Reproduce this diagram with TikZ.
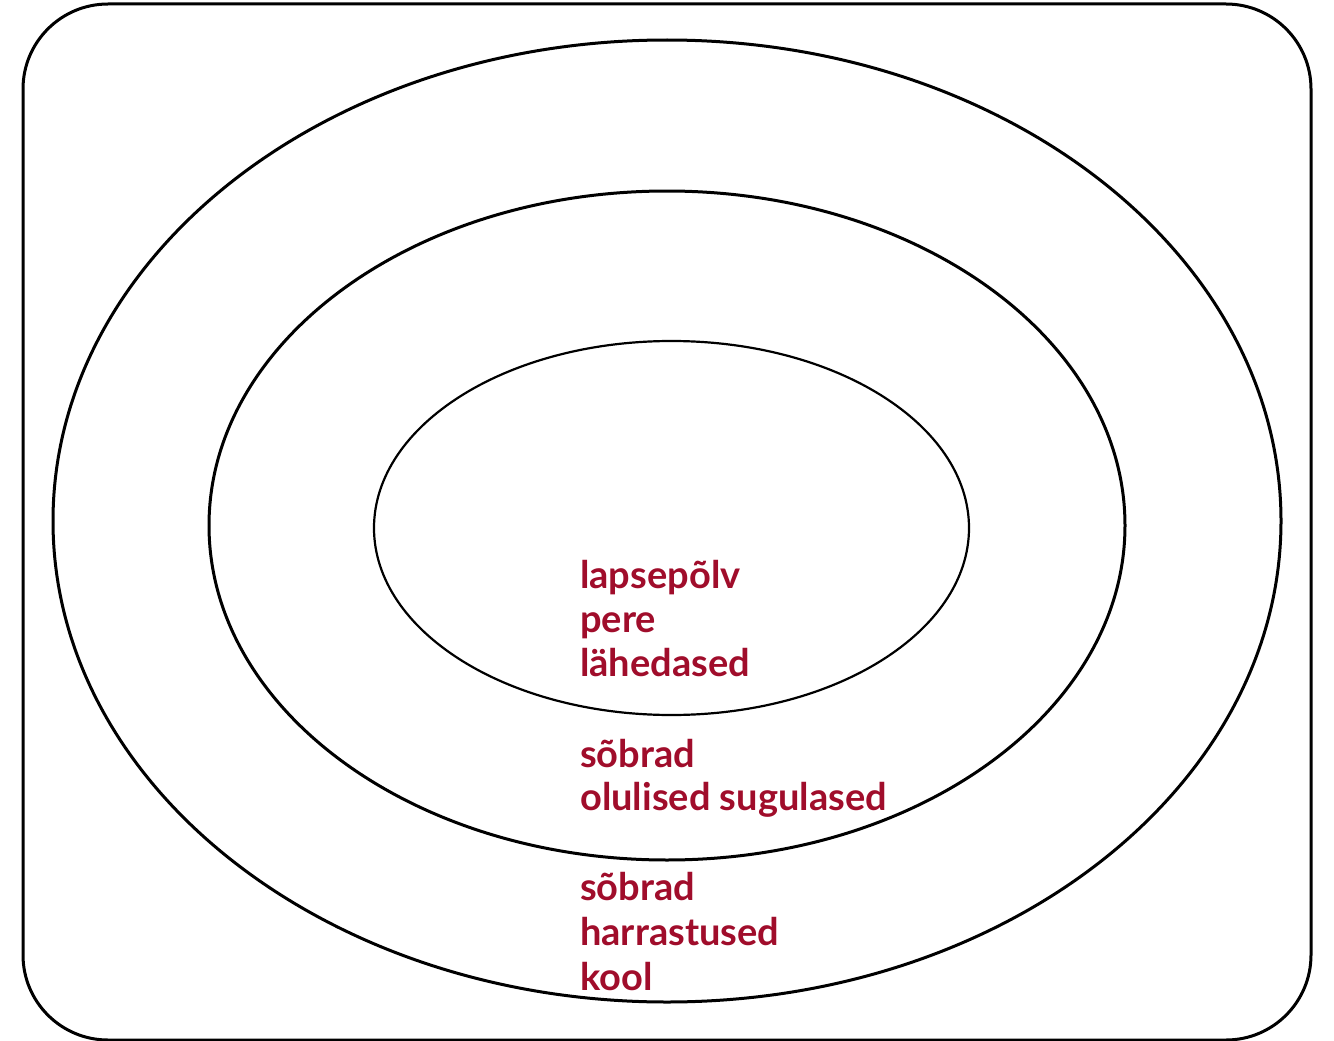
\documentclass[tikz,border=0pt]{standalone}
\usepackage{fontspec}
\setmainfont{Lato}[UprightFont=* Bold]
\definecolor{lbl}{HTML}{A00D2B}
\begin{document}
\begin{tikzpicture}[x=1pt,y=-1pt,
  ring/.style={draw=black,line width=3pt},
  lab/.style={anchor=base west,inner sep=0pt,text=lbl,font=\fontsize{38}{38}\selectfont}]
\useasboundingbox (0,0) rectangle (1334,1041);
\draw[line width=3pt,rounded corners=85pt] (23,4) rectangle (1311,1040);
\draw[ring] (667,521) ellipse [x radius=614, y radius=481];
\draw[ring] (667,525.5) ellipse [x radius=458, y radius=334.5];
\draw[draw=black,line width=2.2pt] (671.5,528) ellipse [x radius=297.5, y radius=187];
\node[lab] (t1) at (580,588) {lapsepõlv};
\node[lab] (t2) at (580,632) {pere};
\node[lab] (t3) at (580,676) {lähedased};
\node[lab] (t4) at (580,767) {sõbrad};
\node[lab] (t5) at (580,810) {olulised sugulased};
\node[lab] (t6) at (580,900) {sõbrad};
\node[lab] (t7) at (580,945) {harrastused};
\node[lab] (t8) at (580,990) {kool};
\end{tikzpicture}
\end{document}
